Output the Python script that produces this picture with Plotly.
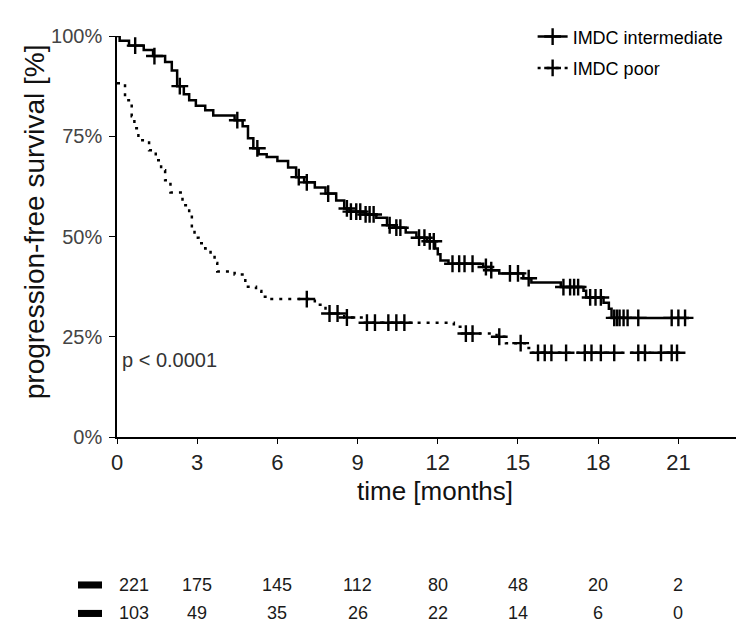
import numpy as np
import plotly.graph_objects as go

# Kaplan-Meier step values (months, survival fraction)
int_t = [0, 0.1, 0.45, 1.0, 1.35, 1.8, 2.05, 2.25, 2.5, 2.7, 2.95, 3.3, 3.6, 4.4, 4.7, 4.9,
         5.1, 5.3, 5.6, 6.0, 6.4, 6.7, 7.0, 7.4, 7.8, 8.2, 8.5, 8.7, 9.3, 9.7, 10.1, 10.4,
         10.8, 11.2, 11.6, 11.9, 12.0, 12.1, 12.4, 13.7, 14.0, 14.3, 15.2, 15.5, 16.6,
         17.45, 17.55, 18.2, 18.4, 18.5, 21.4]
int_s = [1.0, 0.988, 0.976, 0.965, 0.95, 0.935, 0.914, 0.875, 0.855, 0.84, 0.826, 0.815,
         0.802, 0.79, 0.775, 0.745, 0.72, 0.705, 0.698, 0.688, 0.672, 0.648, 0.635, 0.622,
         0.607, 0.59, 0.57, 0.562, 0.555, 0.547, 0.528, 0.522, 0.51, 0.497, 0.488, 0.47,
         0.456, 0.44, 0.432, 0.424, 0.416, 0.408, 0.396, 0.385, 0.374, 0.365, 0.348, 0.335,
         0.32, 0.297, 0.297]
int_cens = [0.68, 1.4, 2.35, 4.5, 5.25, 6.8, 7.1, 7.9, 8.6, 8.75, 8.95, 9.1, 9.3, 9.45,
            9.6, 10.2, 10.45, 10.6, 11.3, 11.5, 11.7, 11.85, 12.55, 12.8, 13.0, 13.3, 13.8,
            14.0, 14.7, 15.0, 15.4, 16.7, 16.95, 17.1, 17.25, 17.7, 17.9, 18.1, 18.6, 18.7,
            18.8, 18.95, 19.1, 19.5, 20.75, 21.0, 21.25]

poor_t = [0, 0.3, 0.55, 0.65, 0.8, 1.2, 1.45, 1.65, 1.8, 2.0, 2.45, 2.7, 2.8, 2.9, 3.05,
          3.3, 3.5, 3.65, 3.75, 4.4, 4.8, 5.2, 5.4, 5.7, 7.4, 7.8, 8.5, 9.2, 12.6, 12.9,
          14.2, 14.55, 15.3, 15.5, 21.0]
poor_s = [0.882, 0.84, 0.80, 0.77, 0.74, 0.715, 0.69, 0.665, 0.64, 0.61, 0.578, 0.56,
          0.52, 0.497, 0.483, 0.47, 0.455, 0.434, 0.413, 0.405, 0.375, 0.364, 0.35, 0.344,
          0.33, 0.308, 0.298, 0.285, 0.275, 0.258, 0.25, 0.234, 0.222, 0.21, 0.21]
poor_cens = [7.1, 7.95, 8.25, 8.6, 9.35, 9.65, 10.15, 10.45, 10.75, 13.05, 13.3, 14.3,
             15.1, 15.75, 16.0, 16.25, 16.8, 17.5, 17.75, 18.1, 18.6, 19.5, 19.75, 20.35,
             20.75, 20.95]

# numbers at risk
risk_times = [0, 3, 6, 9, 12, 15, 18, 21]
risk_int = [221, 175, 145, 112, 80, 48, 20, 2]
risk_poor = [103, 49, 35, 26, 22, 14, 6, 0]

groups = ['IMDC intermediate', 'IMDC poor']


def step_value(ts, ss, x):
    i = np.searchsorted(np.array(ts), np.array(x), side='right') - 1
    return np.array(ss)[i]


BLACK = '#000000'
FONT = 'Liberation Sans, Arial, sans-serif'

fig = go.Figure()

curves = [
    (groups[0], int_t, int_s, int_cens, dict(color=BLACK, width=2.5)),
    (groups[1], poor_t, poor_s, poor_cens, dict(color=BLACK, width=2.5, dash='3px,6px')),
]
for name, ts, ss, cens, line in curves:
    fig.add_trace(go.Scatter(x=ts, y=ss, mode='lines', line=dict(shape='hv', **line),
                             showlegend=False, cliponaxis=False, hoverinfo='skip'))
    fig.add_trace(go.Scatter(x=cens, y=step_value(ts, ss, cens), mode='markers',
                             marker=dict(symbol='cross-thin', size=12, color=BLACK,
                                         line=dict(color=BLACK, width=2.4)),
                             showlegend=False, cliponaxis=False))
    # legend entry
    fig.add_trace(go.Scatter(x=[None], y=[None], mode='lines+markers', name=name,
                             legendgroup=name, line=line,
                             marker=dict(symbol='cross-thin', size=12, color=BLACK,
                                         line=dict(color=BLACK, width=2.4))))

fig.add_annotation(x=0, y=0.193, xref='x', yref='y', text='p < 0.0001', showarrow=False,
                   xanchor='left', xshift=3, font=dict(family=FONT, size=20, color='#333333'))

# axis titles
fig.add_annotation(x=0.509, y=-0.1345, xref='paper', yref='paper', text='time [months]',
                   showarrow=False, xanchor='center', yanchor='middle',
                   font=dict(family=FONT, size=26, color='#111111'))
fig.add_annotation(x=-0.1328, y=0.5355, xref='paper', yref='paper',
                   text='progression-free survival [%]', textangle=-90, showarrow=False,
                   xanchor='center', yanchor='middle',
                   font=dict(family=FONT, size=28, color='#111111'))

# risk table
row_y = [-0.369, -0.44]
for ry, vals in zip(row_y, [risk_int, risk_poor]):
    fig.add_shape(type='rect', xref='paper', yref='paper', x0=-0.0624, x1=-0.024,
                  y0=ry - 0.0088, y1=ry + 0.0088, fillcolor=BLACK, line_width=0)
    for t, v in zip(risk_times, vals):
        fig.add_annotation(x=t, y=ry, xref='x', yref='paper', text=str(v), showarrow=False,
                           xanchor='left' if t == 0 else 'center', yanchor='middle',
                           font=dict(family=FONT, size=18, color='#1a1a1a'))

fig.update_layout(
    width=744, height=626,
    margin=dict(l=109, r=10, t=20, b=197),
    plot_bgcolor='white', paper_bgcolor='white',
    font=dict(family=FONT, color=BLACK),
    xaxis=dict(range=[0, 23.38], tickvals=risk_times, ticks='outside', ticklen=5,
               tickcolor=BLACK, showline=True, linecolor=BLACK, linewidth=1.5,
               showgrid=False, zeroline=False,
               tickfont=dict(size=22, color='#222222')),
    yaxis=dict(range=[0, 1], tickvals=[0, 0.25, 0.5, 0.75, 1], tickformat='.0%',
               ticks='outside', ticklen=6, tickcolor=BLACK, showline=True, linecolor=BLACK,
               linewidth=1.5, showgrid=False, zeroline=False, ticklabelstandoff=3,
               tickfont=dict(size=20, color='#444444')),
    legend=dict(x=0.665, y=1.044, xanchor='left', yanchor='top', bgcolor='rgba(0,0,0,0)',
                font=dict(family=FONT, size=18, color=BLACK), tracegroupgap=5),
    showlegend=True,
)

fig.write_html('out.html')
